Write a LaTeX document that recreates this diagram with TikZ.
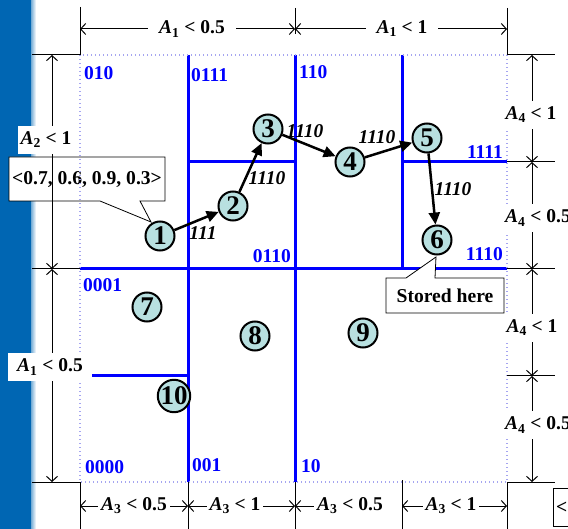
\documentclass[tikz,border=0pt]{standalone}
\usepackage{fontspec}
\setmainfont{Liberation Serif}
\usetikzlibrary{arrows.meta,calc}

\definecolor{barblue}{RGB}{0,102,179}
\definecolor{gridblue}{RGB}{0,0,255}
\definecolor{dotblue}{RGB}{165,165,240}
\definecolor{ballfill}{RGB}{184,224,224}

\newcommand{\dimtxt}[2]{\textit{A}\textsubscript{#1} < #2}

\begin{document}
\begin{tikzpicture}[x=1pt,y=-1pt,
  ball/.style={circle,draw,line width=2pt,fill=ballfill,minimum size=29pt,inner sep=0pt,font=\fontsize{27}{27}\selectfont\bfseries},
  gridline/.style={gridblue,line width=3pt},
  bound/.style={dotblue,line width=1.3pt,dash pattern=on 1pt off 3pt},
  dimline/.style={black,line width=1pt},
  dimarr/.style={dimline,{Straight Barb[length=5pt,width=11pt]}-{Straight Barb[length=5pt,width=11pt]}},
  dimarrL/.style={dimline,{Straight Barb[length=5pt,width=11pt]}-},
  dimlab/.style={fill=white,inner xsep=3pt,inner ysep=6pt,font=\fontsize{19.5}{19.5}\selectfont\bfseries},
  code/.style={text=gridblue,font=\fontsize{19.5}{19.5}\selectfont\bfseries,inner sep=0pt},
  pathlab/.style={font=\fontsize{19.5}{19.5}\selectfont\bfseries\itshape,inner sep=0pt},
  link/.style={line width=2.5pt,-{Triangle[length=12pt,width=11pt]}},
  callout/.style={fill=white,draw=black,line width=0.8pt},
  calltxt/.style={font=\fontsize{19.6}{19.6}\selectfont\bfseries,inner sep=0pt}
]
\useasboundingbox (0,0) rectangle (568,529);

% left bar
\fill[barblue] (0,0) rectangle (31,529);
\shade[left color=barblue!55,right color=white] (31,0) rectangle (36,529);

% grid lines
\draw[gridline] (80,269) -- (507,269);
\draw[gridline] (188,55) -- (188,482);
\draw[gridline] (295,55) -- (295,482);
\draw[gridline] (402,55) -- (402,269);
\draw[gridline] (188,162) -- (295,162);
\draw[gridline] (402,162) -- (507,162);
\draw[gridline] (92,376) -- (190,376);

% callouts
\filldraw[callout] (9,157) -- (165,157) -- (165,201) -- (140,201) -- (151,222) -- (100,201) -- (9,201) -- cycle;
\node[calltxt] (vec) at (87,180) {<0.7, 0.6, 0.9, 0.3>};
\filldraw[callout] (386,278) -- (406,278) -- (436,257) -- (435,278) -- (504,278) -- (504,313) -- (386,313) -- cycle;
\node[calltxt] (stored) at (445,296) {Stored here};
\draw[callout] (553,488) rectangle (600,526);
\node[calltxt,anchor=west] (cut) at (556,508) {<};

% dotted boundary
\draw[bound] (80,55) rectangle (507,482);

% extension lines
\draw[dimline] (80,7) -- (80,55) -- (32,55);
\draw[dimline] (295,8) -- (295,34);
\draw[dimline] (507,8) -- (507,55) -- (555,55);
\draw[dimline] (32,269) -- (80,269);
\draw[dimline] (32,482) -- (80,482) -- (80,529);
\draw[dimline] (188,482) -- (188,529);
\draw[dimline] (295,482) -- (295,529);
\draw[dimline] (402,480) -- (402,529);
\draw[dimline] (507,529) -- (507,482) -- (555,482);
\draw[dimline] (507,162) -- (555,162);
\draw[dimline] (507,269) -- (555,269);
\draw[dimline] (507,376) -- (555,376);

% dimension coordinates
\coordinate (t0) at (80,29); \coordinate (t1) at (295,29); \coordinate (t2) at (507,29);
\coordinate (l0) at (52,55); \coordinate (l1) at (52,269); \coordinate (l2) at (52,482);
\coordinate (r0) at (532,55); \coordinate (r1) at (532,162); \coordinate (r2) at (532,269);
\coordinate (r3) at (532,376); \coordinate (r4) at (532,482);
\coordinate (b0) at (80,506); \coordinate (b1) at (188,506); \coordinate (b2) at (295,506);
\coordinate (b2e) at (330,506); \coordinate (b3) at (402,506); \coordinate (b4) at (507,506);

\draw[dimarr] (t0) -- (t1);
\draw[dimarr] (t1) -- (t2);
\draw[dimarr] (l0) -- (l1);
\draw[dimarr] (l1) -- (l2);
\draw[dimarr] (r0) -- (r1);
\draw[dimarr] (r1) -- (r2);
\draw[dimarr] (r2) -- (r3);
\draw[dimarr] (r3) -- (r4);
\draw[dimarr] (b0) -- (b1);
\draw[dimarr] (b1) -- (b2);
\draw[dimarrL] (b2) -- (b2e);
\draw[dimarr] (b3) -- (b4);

% dimension labels
\node[dimlab,inner xsep=11pt] (dt1) at (192,29) {\dimtxt{1}{0.5}};
\node[dimlab,inner xsep=11pt] (dt2) at (402,29) {\dimtxt{1}{1}};
\node[dimlab] (dl1) at (46,140) {\dimtxt{2}{1}};
\node[dimlab,inner xsep=9pt] (dl2) at (50,367) {\dimtxt{1}{0.5}};
\node[dimlab] (dr1) at (531,115) {\dimtxt{4}{1}};
\node[dimlab] (dr2) at (538,218) {\dimtxt{4}{0.5}};
\node[dimlab] (dr3) at (532,328) {\dimtxt{4}{1}};
\node[dimlab] (dr4) at (538,425) {\dimtxt{4}{0.5}};
\node[dimlab] (db1) at (134,506) {\dimtxt{3}{0.5}};
\node[dimlab] (db2) at (235,506) {\dimtxt{3}{1}};
\node[dimlab] (db3) at (350,506) {\dimtxt{3}{0.5}};
\node[dimlab] (db4) at (451,506) {\dimtxt{3}{1}};

% region codes
\node[code,anchor=west] (c010) at (84,73) {010};
\node[code,anchor=west] (c0111) at (191,75) {0111};
\node[code,anchor=west] (c110) at (299,72) {110};
\node[code,anchor=east] (c1111) at (503,152) {1111};
\node[code,anchor=east] (c1110) at (503,254) {1110};
\node[code,anchor=east] (c0110) at (291,256) {0110};
\node[code,anchor=west] (c0001) at (83,285) {0001};
\node[code,anchor=west] (c0000) at (85,467) {0000};
\node[code,anchor=west] (c001) at (192,465) {001};
\node[code,anchor=west] (c10) at (301,466) {10};

% balls
\node[ball] (n1) at (160,236) {1};
\node[ball] (n2) at (233,206) {2};
\node[ball] (n3) at (268,129) {3};
\node[ball] (n4) at (350,162) {4};
\node[ball] (n5) at (427,138) {5};
\node[ball] (n6) at (437,240) {6};
\node[ball] (n7) at (147,307) {7};
\node[ball] (n8) at (255,336) {8};
\node[ball] (n9) at (363,333) {9};
\node[ball] (n10) at (174,396) {10};

% path
\draw[link] (n1) -- (n2);
\draw[link] (n2) -- (n3);
\draw[link] (n3) -- (n4);
\draw[link] (n4) -- (n5);
\draw[link] (n5) -- (n6);

\node[pathlab] (p1) at (203,233) {111};
\node[pathlab] (p2) at (267,178) {1110};
\node[pathlab] (p3) at (305,131) {1110};
\node[pathlab] (p4) at (377,137) {1110};
\node[pathlab] (p5) at (453,189) {1110};
\end{tikzpicture}
\end{document}
